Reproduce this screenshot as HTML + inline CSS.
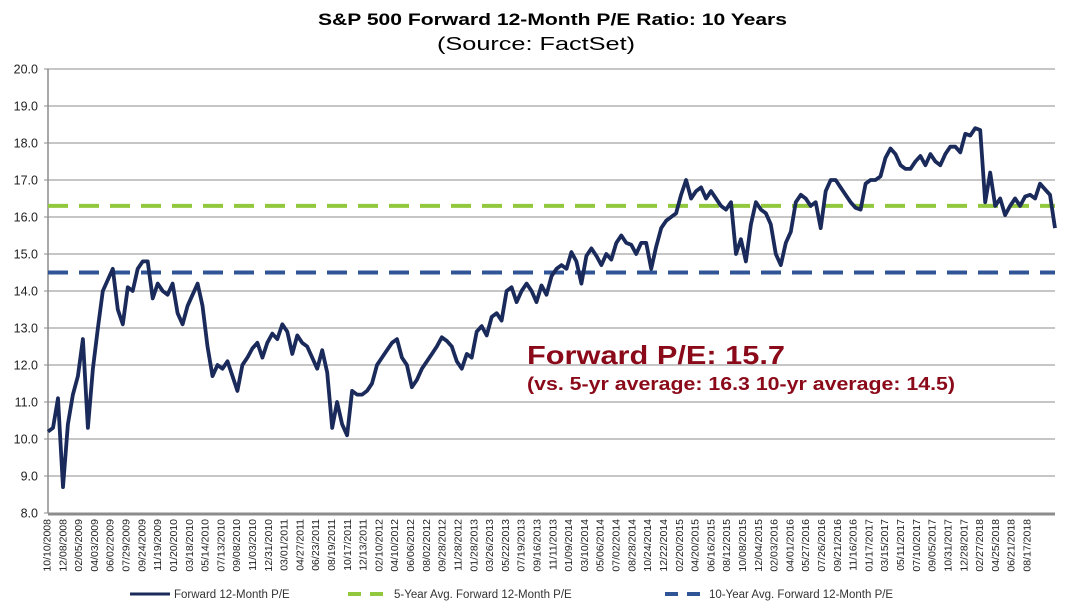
<!DOCTYPE html>
<html><head><meta charset="utf-8"><style>
body{margin:0;background:#fff;width:1070px;height:607px;overflow:hidden;font-family:"Liberation Sans",Arial,sans-serif}
</style></head><body>
<svg id="chart" width="1070" height="607" xmlns="http://www.w3.org/2000/svg" font-family="Liberation Sans, Arial, sans-serif">
<text x="318" y="25" font-size="17" font-weight="bold" fill="#000" textLength="469" lengthAdjust="spacingAndGlyphs">S&amp;P 500 Forward 12-Month P/E Ratio: 10 Years</text>
<text x="437" y="50" font-size="18" fill="#000" textLength="198" lengthAdjust="spacingAndGlyphs">(Source: FactSet)</text>
<g id="grid"></g>
<g id="yticks"></g>
<g id="xticks"></g>
<g id="series"></g>
<text x="527" y="364" font-size="26" font-weight="bold" fill="#8b0a1a" textLength="258" lengthAdjust="spacingAndGlyphs">Forward P/E: 15.7</text>
<text x="527" y="390" font-size="18" font-weight="bold" fill="#8b0a1a" textLength="428" lengthAdjust="spacingAndGlyphs">(vs. 5-yr average: 16.3 10-yr average: 14.5)</text>
<g>
<line x1="130" y1="594" x2="170" y2="594" stroke="#1a2a5a" stroke-width="3"/>
<text x="174" y="598" font-size="11.5" fill="#333">Forward 12-Month P/E</text>
<line x1="348" y1="594" x2="390" y2="594" stroke="#92c83e" stroke-width="4" stroke-dasharray="13,9"/>
<text x="394" y="598" font-size="11.5" fill="#333">5-Year Avg. Forward 12-Month P/E</text>
<line x1="665" y1="594" x2="705" y2="594" stroke="#2f5597" stroke-width="4" stroke-dasharray="13,9"/>
<text x="709" y="598" font-size="11.5" fill="#333">10-Year Avg. Forward 12-Month P/E</text>
</g>
</svg>
<script>
const yTicks=[8,9,10,11,12,13,14,15,16,17,18,19,20];
const avg5=[16.3];
const avg10=[14.5];
const dateLabels=["10/10/2008","12/08/2008","02/05/2009","04/03/2009","06/02/2009","07/29/2009","09/24/2009","11/19/2009","01/20/2010","03/18/2010","05/14/2010","07/13/2010","09/08/2010","11/03/2010","12/31/2010","03/01/2011","04/27/2011","06/23/2011","08/19/2011","10/17/2011","12/13/2011","02/10/2012","04/10/2012","06/06/2012","08/02/2012","09/28/2012","11/28/2012","01/28/2013","03/26/2013","05/22/2013","07/19/2013","09/16/2013","11/11/2013","01/09/2014","03/10/2014","05/06/2014","07/02/2014","08/28/2014","10/24/2014","12/22/2014","02/20/2015","04/20/2015","06/16/2015","08/12/2015","10/08/2015","12/04/2015","02/03/2016","04/01/2016","05/27/2016","07/26/2016","09/21/2016","11/16/2016","01/17/2017","03/15/2017","05/11/2017","07/10/2017","09/05/2017","10/31/2017","12/28/2017","02/27/2018","04/25/2018","06/21/2018","08/17/2018"];
const peValues=[10.2,10.3,11.1,8.7,10.4,11.2,11.7,12.7,10.3,11.9,13.0,14.0,14.3,14.6,13.5,13.1,14.1,14.0,14.6,14.8,14.8,13.8,14.2,14.0,13.9,14.2,13.4,13.1,13.6,13.9,14.2,13.6,12.5,11.7,12.0,11.9,12.1,11.7,11.3,12.0,12.2,12.45,12.6,12.2,12.6,12.85,12.7,13.1,12.9,12.3,12.8,12.6,12.5,12.2,11.9,12.4,11.8,10.3,11.0,10.4,10.1,11.3,11.2,11.2,11.3,11.5,12.0,12.2,12.4,12.6,12.7,12.2,12.0,11.4,11.6,11.9,12.1,12.3,12.5,12.75,12.65,12.5,12.1,11.9,12.3,12.2,12.9,13.05,12.8,13.3,13.4,13.2,14.0,14.1,13.7,14.0,14.2,14.0,13.7,14.15,13.9,14.4,14.6,14.7,14.6,15.05,14.8,14.2,14.95,15.15,14.95,14.7,15.0,14.85,15.3,15.5,15.3,15.25,15.0,15.3,15.3,14.6,15.2,15.7,15.9,16.0,16.1,16.6,17.0,16.5,16.7,16.8,16.5,16.7,16.5,16.3,16.2,16.4,15.0,15.4,14.8,15.8,16.4,16.2,16.1,15.8,15.0,14.7,15.3,15.6,16.4,16.6,16.5,16.3,16.4,15.7,16.7,17.0,17.0,16.8,16.6,16.4,16.25,16.2,16.9,17.0,17.0,17.1,17.6,17.85,17.7,17.4,17.3,17.3,17.5,17.65,17.4,17.7,17.5,17.4,17.7,17.9,17.9,17.75,18.25,18.2,18.4,18.35,16.4,17.2,16.3,16.5,16.05,16.3,16.5,16.3,16.55,16.6,16.5,16.9,16.75,16.6,15.7];

const NS="http://www.w3.org/2000/svg";
const X0=48,X1=1055,Y0=513,Y1=69;
function y(v){return Y0-(v-8)/(20-8)*(Y0-Y1);}
function xIdx(i){return X0+i*(X1-X0)/(peValues.length-1);}
function xLabel(k){return 47+k*(1027-47)/(dateLabels.length-1);}
function mk(tag,attrs,parent){const e=document.createElementNS(NS,tag);for(const k in attrs)e.setAttribute(k,attrs[k]);parent.appendChild(e);return e;}

const grid=document.getElementById('grid'),yt=document.getElementById('yticks'),xt=document.getElementById('xticks'),ser=document.getElementById('series');
yTicks.forEach(t=>{
  if(t>8){const l=mk('line',{x1:X0,x2:X1,y1:y(t),y2:y(t),stroke:'#8c8c8c','stroke-width':1},grid);
  
  }
  const tx=mk('text',{x:38,y:y(t)+4.5,'text-anchor':'end','font-size':12.5,fill:'#222'},yt);
  tx.textContent=t.toFixed(1);
  
  
  const tk=mk('line',{x1:X0-4,x2:X0,y1:y(t),y2:y(t),stroke:'#8c8c8c'},yt);
  
  
});
const ax=mk('line',{x1:X0,x2:X0,y1:Y1,y2:Y0,stroke:'#8c8c8c','stroke-width':1.5},grid);


const bx=mk('line',{x1:X0,x2:X1,y1:Y0+1,y2:Y0+1,stroke:'#8c8c8c','stroke-width':3},grid);


dateLabels.forEach((d,k)=>{
  const px=xLabel(k)+3.5;
  const tx=mk('text',{x:0,y:0,transform:`translate(${px},519) rotate(-90)`,'text-anchor':'end','font-size':10.5,fill:'#222'},xt);
  tx.textContent=d;
  
  
});
const g5=mk('line',{x1:X0,x2:X1,y1:y(avg5[0]),y2:y(avg5[0]),stroke:'#92c83e','stroke-width':4,'stroke-dasharray':'20,11'},ser);


const g10=mk('line',{x1:X0,x2:X1,y1:y(avg10[0]),y2:y(avg10[0]),stroke:'#2f5597','stroke-width':4,'stroke-dasharray':'20,11'},ser);


const pts=peValues.map((v,i)=>xIdx(i).toFixed(1)+','+y(v).toFixed(1)).join(' ');
const pl=mk('polyline',{points:pts,fill:'none',stroke:'#1a2a5a','stroke-width':3.8,'stroke-linejoin':'round'},ser);


</script>
</body></html>
